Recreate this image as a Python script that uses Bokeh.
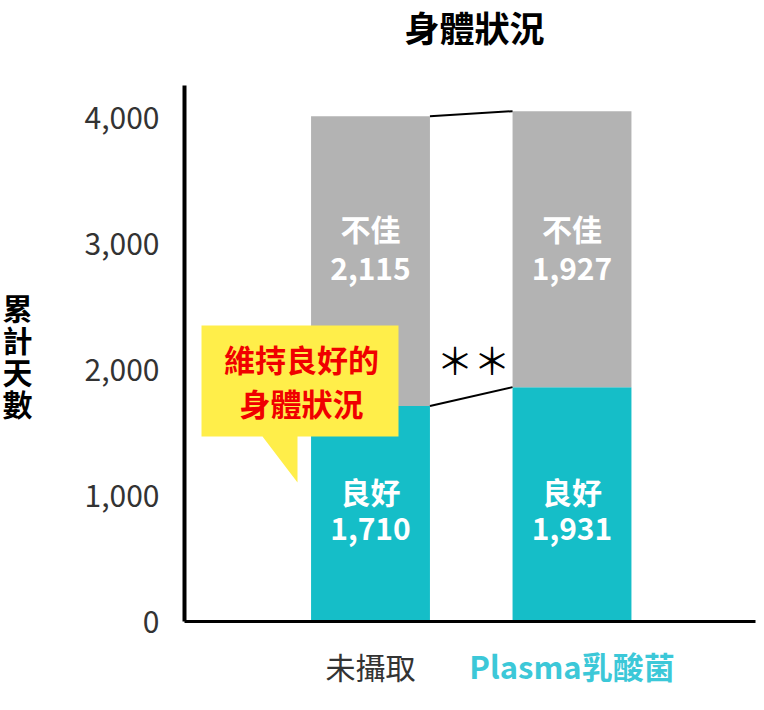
from bokeh.plotting import figure
from bokeh.models import Label, NumeralTickFormatter, FixedTicker, ColumnDataSource
from bokeh.embed import file_html
from bokeh.resources import INLINE

# data
groups = ["未攝取", "Plasma乳酸菌"]
group_colors = ["#333333", "#3CC8D8"]
good_label = ["1,710", "1,931"]
poor_label = ["2,115", "1,927"]
# segment heights as drawn in the picture
good_drawn = [1710, 1860]
poor_drawn = [2300, 2190]
y_ticks = [0, 1000, 2000, 3000, 4000]

FONT = "Noto Sans CJK TC"
TEAL = "#15BEC8"
GRAY = "#B3B3B3"
BAR_W = 0.59

W, H = 760, 700
PX_X = 201.5          # pixels per x unit
PX_Y = 0.126          # pixels per y unit
X0 = 1 - 370 / PX_X
X1 = X0 + W / PX_X
Y1 = 621 / PX_Y
Y0 = Y1 - H / PX_Y
AX_X = 1 - (370 - 184) / PX_X     # where the y axis sits
AX_XEND = AX_X + (755 - 184) / PX_X
AX_YEND = (621 - 85) / PX_Y


# helpers for placing annotations by pixel
def px_x(px):
    return X0 + px / PX_X


def px_y(py):
    return (621 - py) / PX_Y


p = figure(width=W, height=H, x_range=(X0, X1), y_range=(Y0, Y1),
           output_backend="svg", toolbar_location=None, tools="",
           min_border=0)
p.outline_line_color = None
p.grid.visible = False

xs = [1, 2]
totals = [g + b for g, b in zip(good_drawn, poor_drawn)]
src = ColumnDataSource(dict(x=xs, good=good_drawn, top=totals))
p.vbar(x="x", bottom=0, top="good", width=BAR_W, source=src,
       fill_color=TEAL, line_color=None)
p.vbar(x="x", bottom="good", top="top", width=BAR_W, source=src,
       fill_color=GRAY, line_color=None)

# connecting lines between the bars
half = BAR_W / 2
p.line([xs[0] + half, xs[1] - half], [totals[0], totals[1]],
       line_color="black", line_width=2)
p.line([xs[0] + half, xs[1] - half], [good_drawn[0], good_drawn[1]],
       line_color="black", line_width=2)

# y axis
yax = p.yaxis[0]
yax.fixed_location = AX_X
yax.bounds = (0, AX_YEND)
yax.ticker = FixedTicker(ticks=y_ticks)
yax.formatter = NumeralTickFormatter(format="0,0")
yax.axis_line_width = 4
yax.axis_line_color = "black"
yax.major_tick_line_color = None
yax.minor_tick_line_color = None
yax.major_label_standoff = 19
yax.major_label_text_font = FONT
yax.major_label_text_font_size = "30px"
yax.major_label_text_color = "#333333"

# x axis: line only
xax = p.xaxis[0]
xax.fixed_location = 0
xax.bounds = (AX_X, AX_XEND)
xax.ticker = FixedTicker(ticks=[])
xax.axis_line_width = 3
xax.axis_line_color = "black"
xax.major_tick_line_color = None
xax.minor_tick_line_color = None


def add_text(x, y, text, size, color, bold=False):
    p.add_layout(Label(x=x, y=y, text=text, text_font=FONT,
                       text_font_size=size, text_color=color,
                       text_font_style="bold" if bold else "normal",
                       text_align="center", text_baseline="middle"))


# bar labels
for i, x in enumerate(xs):
    add_text(x, px_y(227), "不佳", "30px", "white", True)
    add_text(x, px_y(268), poor_label[i], "30px", "white", True)
    add_text(x, px_y(490), "良好", "30px", "white", True)
    add_text(x, px_y(528), good_label[i], "30px", "white", True)

# group labels under the axis
add_text(xs[0], px_y(665), groups[0], "30px", group_colors[0])
add_text(xs[1], px_y(665), groups[1], "31px", group_colors[1], True)

# significance mark
add_text(px_x(473), px_y(358), "＊＊", "37px", "black")

# callout bubble
bx0, bx1 = px_x(201), px_x(398)
by0, by1 = px_y(436), px_y(325)
p.patch([bx0, bx1, bx1, px_x(297), px_x(297), px_x(262), bx0],
        [by1, by1, by0, by0, px_y(482), by0, by0],
        fill_color="#FFEE4A", line_color=None)
add_text(px_x(301), px_y(358), "維持良好的", "31px", "#F00000", True)
add_text(px_x(301), px_y(402), "身體狀況", "31px", "#F00000", True)

# title and y label
add_text(px_x(474), px_y(26), "身體狀況", "35px", "black", True)
for k, ch in enumerate("累計天數"):
    add_text(px_x(17), px_y(306 + 32 * k), ch, "30px", "black", True)

open("out.html", "w").write(file_html(p, INLINE))
